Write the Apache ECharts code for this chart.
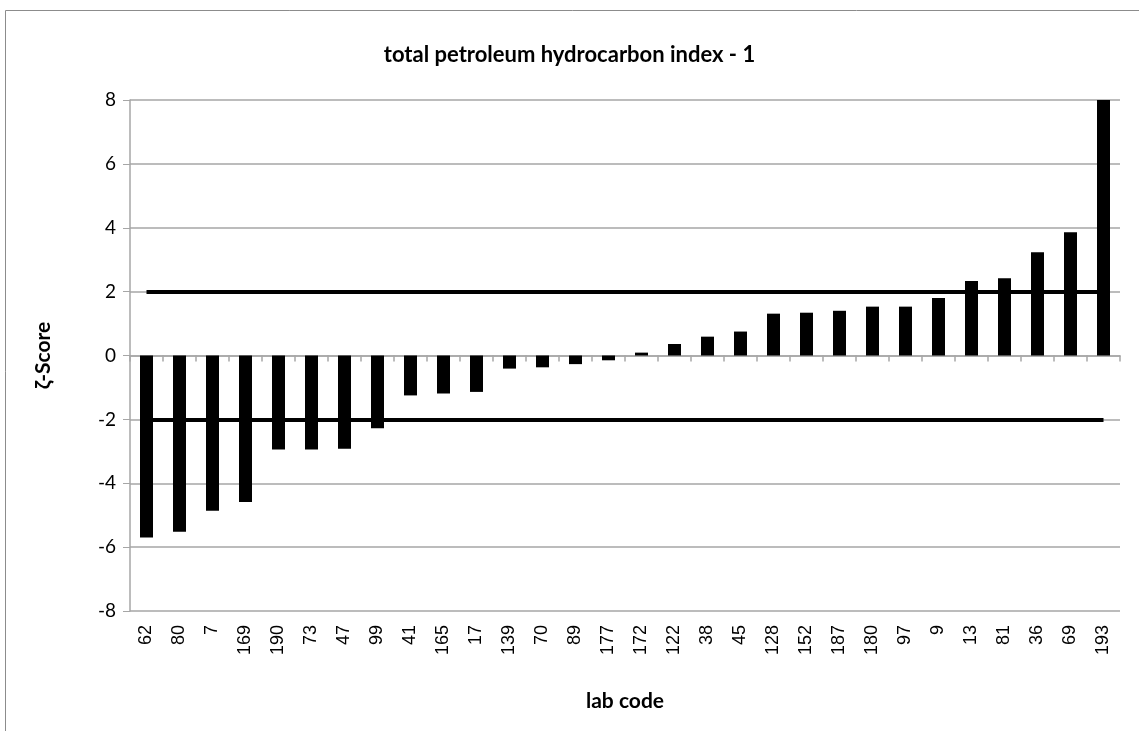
<!DOCTYPE html>
<html>
<head>
<meta charset="utf-8">
<script src="https://cdn.jsdelivr.net/npm/echarts@6/dist/echarts.min.js"></script>
<style>
  html, body { margin: 0; padding: 0; background: #fff; }
  #chart { width: 1139px; height: 731px; }
</style>
</head>
<body>
<div id="chart"></div>
<script>
// lab codes, sorted by score
const labCodes = ['62', '80', '7', '169', '190', '73', '47', '99', '41', '165', '17', '139', '70', '89', '177',
  '172', '122', '38', '45', '128', '152', '187', '180', '97', '9', '13', '81', '36', '69', '193'];
// zeta scores
const zScores = [-5.70, -5.52, -4.86, -4.59, -2.94, -2.94, -2.92, -2.28, -1.25, -1.19, -1.14, -0.41, -0.37, -0.27, -0.15,
  0.09, 0.36, 0.59, 0.75, 1.31, 1.34, 1.40, 1.53, 1.53, 1.80, 2.33, 2.42, 3.23, 3.86, 8.0];
// acceptance limits
const limits = [2, -2];
const yTicks = { min: -8, max: 8, interval: 2 };

const chart = echarts.init(document.getElementById('chart'));

const gray = '#a6a6a6';
const numFont = 'Liberation Sans';
const textFont = 'Lato';

const option = {
  animation: false,
  backgroundColor: '#fff',
  graphic: [{
    type: 'rect',
    shape: { x: 5.5, y: 10.5, width: 1150, height: 740 },
    style: { fill: 'none', stroke: '#8c8c8c', lineWidth: 1 },
    silent: true
  }],
  title: {
    text: 'total petroleum hydrocarbon index - 1',
    left: 'center',
    top: 39,
    textStyle: { fontFamily: textFont, fontWeight: 'bold', fontSize: 22, color: '#000' }
  },
  grid: { left: 130, right: 19, top: 100, bottom: 120 },
  xAxis: [
    {
      type: 'category',
      data: labCodes,
      position: 'bottom',
      name: 'lab code',
      nameLocation: 'middle',
      nameGap: 80,
      nameTextStyle: { fontFamily: textFont, fontWeight: 'bold', fontSize: 21, color: '#000' },
      axisLine: { show: false, onZero: false },
      axisTick: { show: false },
      axisLabel: { rotate: 90, margin: 14, fontFamily: numFont, fontSize: 18, color: '#000', interval: 0 }
    },
    {
      type: 'category',
      data: labCodes,
      position: 'bottom',
      axisLine: { show: true, onZero: true, lineStyle: { color: gray, width: 1.5 } },
      axisTick: { show: true, length: 6, lineStyle: { color: gray, width: 1.5 } },
      axisLabel: { show: false }
    }
  ],
  yAxis: {
    type: 'value',
    min: yTicks.min,
    max: yTicks.max,
    interval: yTicks.interval,
    name: 'ζ-Score',
    nameLocation: 'middle',
    nameGap: 76,
    nameTextStyle: { fontFamily: textFont, fontWeight: 'bold', fontSize: 21, color: '#000' },
    axisLine: { show: true, lineStyle: { color: gray, width: 1.5 } },
    axisTick: { show: true, length: 7, lineStyle: { color: gray } },
    axisLabel: { fontFamily: textFont, fontSize: 19, color: '#000', margin: 14 },
    splitLine: { show: true, lineStyle: { color: gray, width: 1.5 } }
  },
  series: [
    {
      type: 'bar',
      xAxisIndex: 0,
      data: zScores,
      barWidth: 13,
      itemStyle: { color: '#000' },
      markLine: {
        silent: true,
        symbol: 'none',
        label: { show: false },
        lineStyle: { color: '#000', width: 4, type: 'solid' },
        data: limits.map(v => [
          { coord: [labCodes[0], v] },
          { coord: [labCodes[labCodes.length - 1], v] }
        ])
      }
    }
  ]
};

chart.setOption(option);
</script>
</body>
</html>
